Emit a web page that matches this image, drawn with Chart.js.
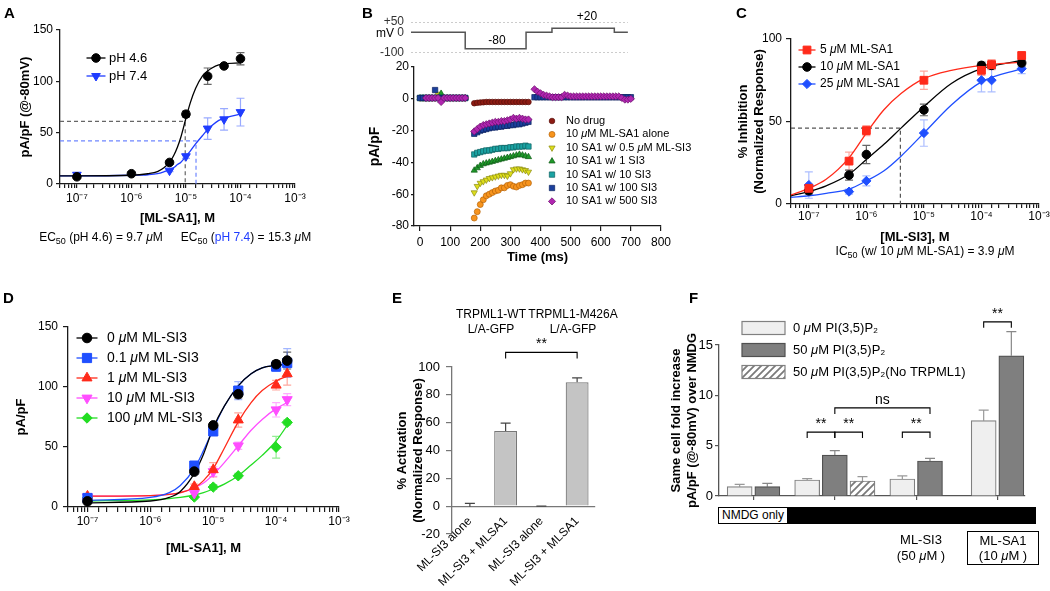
<!DOCTYPE html>
<html>
<head>
<meta charset="utf-8">
<script src="https://cdn.jsdelivr.net/npm/chart.js@4.4.1/dist/chart.umd.min.js"></script>
<style>
  body { margin: 0; background: #fff; }
  #wrap { position: relative; width: 1050px; height: 591px; overflow: hidden; background: #fff;
          font-family: 'Liberation Sans', Arial, Helvetica, sans-serif; color: #000; }
  canvas { position: absolute; left: 0; top: 0; }
  .t { position: absolute; white-space: nowrap; font-size: 13px; line-height: 1; }
  .c { transform: translate(-50%, -50%); }
  .L { font-weight: bold; font-size: 15px; }
  .s { font-size: 12px; }
  sub { font-size: 9px; vertical-align: -3px; line-height: 0; }
</style>
</head>
<body>
<div id="wrap">
  <canvas id="cA" width="1050" height="591"></canvas>
  <canvas id="cBv" width="1050" height="591"></canvas>
  <canvas id="cB" width="1050" height="591"></canvas>
  <canvas id="cC" width="1050" height="591"></canvas>
  <canvas id="cD" width="1050" height="591"></canvas>
  <canvas id="cE" width="1050" height="591"></canvas>
  <canvas id="cF" width="1050" height="591"></canvas>

  <div class="t L" style="left:4px;top:5px">A</div>
  <div class="t L" style="left:362px;top:5px">B</div>
  <div class="t L" style="left:736px;top:5px">C</div>
  <div class="t L" style="left:3px;top:290px">D</div>
  <div class="t L" style="left:392px;top:290px">E</div>
  <div class="t L" style="left:689px;top:290px">F</div>

  <div class="t c s" style="left:101px;top:237px">EC<sub>50</sub> (pH 4.6) = 9.7 <i>μ</i>M</div>
  <div class="t c s" style="left:246px;top:237px">EC<sub>50</sub> (<span style="color:#1f3cff">pH 7.4</span>) = 15.3 <i>μ</i>M</div>

  <div class="t c s" style="left:385px;top:33px">mV</div>
  <div class="t c s" style="left:497px;top:40px">-80</div>
  <div class="t c s" style="left:587px;top:16px">+20</div>

  <div class="t c s" style="left:925px;top:251px">IC<sub>50</sub> (w/ 10 <i>μ</i>M ML-SA1) = 3.9 <i>μ</i>M</div>

  <div class="t c s" style="left:491px;top:314px">TRPML1-WT</div>
  <div class="t c s" style="left:491px;top:329px">L/A-GFP</div>
  <div class="t c s" style="left:573px;top:314px">TRPML1-M426A</div>
  <div class="t c s" style="left:573px;top:329px">L/A-GFP</div>

  <div style="position:absolute;left:718px;top:507px;width:316px;height:15px;border:1px solid #000;background:#000"></div>
  <div class="t s" style="left:719px;top:508px;width:68px;height:15px;background:#fff;line-height:15px;padding-left:3px;box-sizing:border-box">NMDG only</div>
  <div class="t c" style="left:921px;top:539px">ML-SI3</div>
  <div class="t c" style="left:921px;top:555px">(50 <i>μ</i>M )</div>
  <div style="position:absolute;left:967px;top:531px;width:70px;height:32px;border:1px solid #000"></div>
  <div class="t c" style="left:1003px;top:540px">ML-SA1</div>
  <div class="t c" style="left:1003px;top:555px">(10 <i>μ</i>M )</div>
</div>

<script>
// ---------- data: panel A (ML-SA1 dose response, two pH) ----------
const LOG_MIN = 4.9e-8;
const aConc = [1e-7, 1e-6, 5e-6, 1e-5, 2.5e-5, 5e-5, 1e-4];
const aPh46 = [7, 10, 21, 68, 105, 115, 122];
const aPh46Err = [1.5, 1.5, 1.5, 3, 8, 1.5, 6];
const aConc74 = [1e-7, 5e-6, 1e-5, 2.5e-5, 5e-5, 1e-4];
const aPh74 = [9, 13, 27, 54, 63, 70];
const aPh74Err = [2, 1, 2, 10.5, 10.5, 13.5];
const aFitX = [LOG_MIN, 1e-7, 1e-6, 2e-6, 3e-6, 4e-6, 5e-6, 6e-6, 7e-6, 8e-6, 1e-5, 1.2e-5, 1.5e-5, 2e-5, 2.5e-5, 3e-5, 4e-5, 5e-5, 1e-4];
const aFit46 = [8, 8, 8.5, 10, 12, 16, 21, 28, 36, 45, 64, 79, 93, 105, 110, 113, 116, 117, 118];
const aFit74 = [8, 8, 8.5, 9, 10, 12, 14, 16, 19, 21, 27, 32, 39, 47, 53, 57, 62, 64, 68];
const aEc50 = [9.7e-6, 1.53e-5];
const aHalf = [61, 42];

// ---------- data: panel B (current traces) ----------
const bStepT = [-30, 150, 352, 438, 645, 690];
const bStepMv = [0, -80, 0, 20, 0, 0];
const bMvTicks = [50, 0, -100];
const bPreT = [0, 10, 20, 30, 40, 50, 60, 70, 80, 90, 100, 110, 120, 130, 140, 150];
const bMainT = [180, 190, 200, 210, 220, 230, 240, 250, 260, 270, 280, 290, 300, 310, 320, 330, 340, 350, 360];
const bPostT = [380, 390, 400, 410, 420, 430, 440, 450, 460, 470, 480, 490, 500, 510, 520, 530, 540, 550, 560, 570, 580, 590, 600, 610, 620, 630, 640, 650, 660, 670, 680, 690, 700];
const bNoDrug = [-2.8, -2.5, -2.3, -2.2, -2, -2, -2, -2, -2, -2, -2, -2, -2, -2, -2, -2, -2, -2, -2];
const bSa1 = [-75, -71, -66.5, -63.5, -61, -60, -59, -58, -57.5, -56, -56, -54.5, -54, -55, -55.5, -54.5, -54, -53, -53];
const bSi05 = [-59, -55, -53, -52, -51, -50, -49.5, -49, -48.5, -48, -48, -48.5, -47, -44.5, -44, -44, -44.5, -45, -46];
const bSi1 = [-45, -43.5, -42, -41, -40.5, -40, -39.5, -39, -38.5, -38, -37.5, -37, -36.5, -36, -35.5, -35, -35.5, -36, -36.5];
const bSi10 = [-35, -34, -33.5, -33, -32.5, -32.5, -32, -31.5, -31.5, -31, -31, -31, -30.5, -30.5, -30, -30, -30, -29.5, -30];
const bSi100 = [-22, -21, -20, -19.5, -19, -18.5, -18, -18, -17.5, -17.5, -17, -17, -16.5, -16.5, -16, -16, -15.5, -15, -14.5];
const bSi500 = [-20.5, -19, -17.5, -16.5, -16, -15.5, -15, -14.5, -14.5, -14, -14, -13.5, -13, -12, -12.5, -12, -12.5, -13, -13];
const bSi05Pre = [0.5, 0.5, 0.5, 0.5, 0.5, 0.5, 3, 0.5, 0.5, 0.5, 0.5, 0.5, 0.5, 0.5, 0.5, 0.5];
const bSi1Pre = [0.5, 0.5, 0.5, 0.5, 0.5, 0.5, 0.5, 3.3, 0.5, 0.5, 0.5, 0.5, 0.5, 0.5, 0.5, 0.5];
const bSi10Pre = [0.5, 0.5, 0.5, 0.5, 0.5, 0.5, 0.5, 0.5, 0.5, 0.5, 0.5, 0.5, 0.5, 0.5, 0.5, 0.5];
const bSi100Pre = [0.5, 0.5, 0.5, 0.5, 0.5, 5.5, 0.5, 0.5, 0.5, 0.5, 0.5, 0.5, 0.5, 0.5, 0.5, 0.5];
const bSi500Pre = [null, null, 0.5, 0.5, 0.5, 0.5, 0.5, -2, 0.5, 0.5, 0.5, 0.5, 0.5, 0.5, 0.5, 0.5];
const bSi100Post = [1, 1, 1, 1, 1, 1, 1, 1, 1, 1, 1, 1, 1, 1, 1, 1, 1, 1, 1, 1, 1, 1, 1, 1, 1, 1, 1, 1, 1, 1, 1, 1, 1];
const bSi500Post = [6, 4.5, 3.5, 2.5, 2, 1.5, 1, 1, 1, 1, 2.5, 2, 1.5, 1.5, 1.5, 1.5, 1.5, 1.5, 1.5, 1.5, 1.5, 1.5, 1.5, 1.5, 1.5, 1.5, 1.5, 1.5, 1.5, 0.5, -0.5, -0.5, 0];

// ---------- data: panel C (ML-SI3 inhibition) ----------
const cConc = [1e-7, 5e-7, 1e-6, 1e-5, 1e-4, 1.5e-4, 5e-4];
const cSa5 = [9.5, 26, 44.5, 75, 81, 84.5, 90];
const cSa5Err = [2, 5.5, 3, 5.5, 3, 3, 2];
const cSa10 = [8, 17.5, 30, 57, 84, 84, 85.5];
const cSa10Err = [2, 3, 5.5, 3.5, 2, 2, 2];
const cSa25 = [11.5, 7.5, 14, 43, 75, 75, 82];
const cSa25Err = [8, 1.5, 3, 8, 7, 7, 3];
const cFitX = [LOG_MIN, 1e-7, 2e-7, 5e-7, 1e-6, 2e-6, 4e-6, 1e-5, 3e-5, 1e-4, 5e-4];
const cFit5 = [5.5, 9.5, 15, 28, 43, 57, 67, 76, 81, 84, 86];
const cFit10 = [5, 7.5, 11, 18, 27, 36, 46, 59, 73, 82, 87];
const cFit25 = [4, 5, 6.5, 9, 14, 20, 29, 43, 60, 74, 82];
const cIc50 = 3.9e-6;
const cHalf = 46;

// ---------- data: panel D (ML-SA1 with ML-SI3) ----------
const dConc = [1e-7, 5e-6, 1e-5, 2.5e-5, 1e-4, 1.5e-4];
const dSi0 = [4.7, 29.5, 68, 94, 119, 122];
const dSi0Err = [1.5, 2, 2, 3, 3, 7];
const dSi01 = [7.5, 34.5, 63, 97, 117, 120];
const dSi01Err = [2, 3, 3, 7.5, 4, 12];
const dSi1 = [9, 17, 31, 72.5, 101.5, 111];
const dSi1Err = [2, 2, 6, 6, 4, 9.5];
const dSi10 = [8.5, 11.5, 29.5, 51, 81, 89.5];
const dSi10Err = [2, 2, 4, 3, 6, 5];
const dSi100 = [7.5, 8.3, 16.6, 26, 49.8, 70.5];
const dSi100Err = [2, 1.5, 2, 2, 9, 2];
const dFitX = [1e-7, 1e-6, 2e-6, 3e-6, 5e-6, 7e-6, 1e-5, 1.5e-5, 2.5e-5, 4e-5, 6e-5, 1e-4, 1.5e-4];
const dFit0 = [3.5, 5, 8, 13, 28, 44, 66, 84, 101, 111, 116, 118, 119];
const dFit01 = [5.5, 8, 12, 18, 32, 47, 65, 84, 101, 111, 116, 118, 119];
const dFit1 = [9, 9.5, 10.5, 12, 16, 22, 32, 49, 71, 87, 97, 105, 109];
const dFit10 = [9, 9.5, 10.5, 12, 16, 20, 27, 37, 51, 64, 73, 82, 87];
const dFit100 = [5, 6, 7, 8, 10, 12, 15, 19, 26, 35, 43, 55, 68];

// ---------- data: panel E ----------
const eLabels = ['ML-SI3 alone', 'ML-SI3 + MLSA1', 'ML-SI3 alone', 'ML-SI3 + MLSA1'];
const eValues = [-0.5, 54, -0.3, 89];
const eErr = [2.5, 5.7, 0.3, 3.2];

// ---------- data: panel F ----------
const fGroups = ['NMDG only', 'Control', 'ML-SI3 (50 μM)', 'ML-SA1 (10 μM)'];
const fPi0 = [0.93, 1.59, 1.69, 7.48];
const fPi0Err = [0.23, 0.13, 0.3, 1.06];
const fPi50 = [0.93, 4.07, 3.48, 13.93];
const fPi50Err = [0.33, 0.43, 0.26, 2.4];
const fNoTrpml1 = [null, 1.49, null, null];
const fNoTrpml1Err = [null, 0.43, null, null];

// ---------- helpers ----------
const FONT = "'Liberation Sans', Arial, Helvetica, sans-serif";
Chart.defaults.font.family = FONT;
Chart.defaults.color = '#000';

const pts = (xs, ys) => xs.map((x, i) => ({ x, y: ys[i] }));

function merge(a, b) {
  const out = Object.assign({}, a);
  for (const k in b) {
    const v = b[k];
    if (v && typeof v === 'object' && !Array.isArray(v) && a[k] && typeof a[k] === 'object' && !Array.isArray(a[k])) {
      out[k] = merge(a[k], v);
    } else {
      out[k] = v;
    }
  }
  return out;
}

const AXC = '#1a1a1a';
function yAxis(w, o) {
  return merge({
    border: { color: AXC, width: 1.3 },
    grid: { drawOnChartArea: false, color: AXC, lineWidth: 1.2, tickLength: 4 },
    ticks: { font: { size: 12 }, color: '#000', padding: 3 },
    afterFit: s => { s.width = w; s.paddingTop = 0; s.paddingBottom = 0; }
  }, o || {});
}
function xAxis(h, o) {
  return merge({
    border: { color: AXC, width: 1.3 },
    grid: { drawOnChartArea: false, color: AXC, lineWidth: 1.2, tickLength: 4 },
    ticks: { font: { size: 12 }, color: '#000', padding: 3, maxRotation: 0, autoSkip: false },
    afterFit: s => { s.height = h; s.paddingLeft = 0; s.paddingRight = 0; }
  }, o || {});
}
function title(text, size) {
  return { display: true, text, font: { size: size || 13, weight: 'bold' }, padding: 0, color: '#000' };
}
function area(l, t, r, b, w, h) {
  return { autoPadding: false, padding: { left: l - w, top: t, right: 1050 - r, bottom: 591 - b - h } };
}
const SUP = { '-': '⁻', '0': '⁰', '1': '¹', '2': '²', '3': '³', '4': '⁴', '5': '⁵', '6': '⁶', '7': '⁷', '8': '⁸', '9': '⁹' };
function sciLabel(v) {
  const e = Math.log10(v);
  if (Math.abs(e - Math.round(e)) > 1e-6) return '';
  return '10' + String(Math.round(e)).split('').map(c => SUP[c]).join('');
}
function logX(h, o) {
  return xAxis(h, merge({ type: 'logarithmic', min: LOG_MIN, max: 1e-3, ticks: { callback: sciLabel } }, o || {}));
}
function baseOptions(layout, scales) {
  return {
    responsive: false, animation: false, layout, scales,
    plugins: { legend: { display: false }, tooltip: { enabled: false } }
  };
}
function pointSet(label, xs, ys, errs, style, r, fill, stroke, errColor, extra) {
  return Object.assign({
    label, data: pts(xs, ys), errors: errs, errorColor: errColor, showLine: false,
    pointStyle: style, pointRadius: r, backgroundColor: fill, borderColor: stroke, borderWidth: 1, order: 0
  }, extra || {});
}
function curve(xs, ys, color) {
  return { data: pts(xs, ys), showLine: true, pointRadius: 0, borderColor: color, borderWidth: 1.3,
           cubicInterpolationMode: 'monotone', fill: false, order: 1 };
}
function guide(xs, ys, color) {
  return { data: pts(xs, ys), showLine: true, pointRadius: 0, borderColor: color, borderWidth: 1.2,
           borderDash: [4, 3], fill: false, order: 2 };
}

// error bars drawn through the dataset's own y scale
const errorBars = {
  id: 'errorBars',
  beforeDatasetsDraw(chart) {
    const ctx = chart.ctx;
    chart.data.datasets.forEach((ds, di) => {
      if (!ds.errors) return;
      const meta = chart.getDatasetMeta(di);
      const ys = chart.scales[meta.yAxisID];
      ctx.save();
      ctx.strokeStyle = ds.errorColor || ds.borderColor;
      ctx.lineWidth = 1.2;
      meta.data.forEach((el, i) => {
        const e = ds.errors[i];
        if (!e) return;
        const v = meta.controller.getParsed(i).y;
        const top = ys.getPixelForValue(v + e);
        const bot = ds.errorUp ? el.y : ys.getPixelForValue(v - e);
        const cw = ds.errorCap || 4;
        ctx.beginPath();
        ctx.moveTo(el.x, bot); ctx.lineTo(el.x, top);
        ctx.moveTo(el.x - cw, top); ctx.lineTo(el.x + cw, top);
        if (!ds.errorUp) { ctx.moveTo(el.x - cw, bot); ctx.lineTo(el.x + cw, bot); }
        ctx.stroke();
      });
      ctx.restore();
    });
  }
};
Chart.register(errorBars);

function rich(ctx, text, x, y, size) {
  ctx.fillStyle = '#000';
  ctx.textBaseline = 'middle';
  ctx.textAlign = 'left';
  text.split(/(μ)/).forEach(p => {
    if (!p) return;
    ctx.font = (p === 'μ' ? 'italic ' : '') + size + 'px ' + FONT;
    ctx.fillText(p, x, y);
    x += ctx.measureText(p).width;
  });
}
function marker(ctx, ds, x, y) {
  ctx.fillStyle = ds.backgroundColor;
  ctx.strokeStyle = ds.borderColor;
  ctx.lineWidth = ds.borderWidth || 1;
  if (Chart.helpers && Chart.helpers.drawPoint) {
    Chart.helpers.drawPoint(ctx, { pointStyle: ds.pointStyle, rotation: ds.pointRotation || 0,
      radius: ds.pointRadius, borderWidth: ds.borderWidth || 1 }, x, y);
  } else {
    ctx.beginPath(); ctx.arc(x, y, ds.pointRadius, 0, Math.PI * 2); ctx.fill(); ctx.stroke();
  }
}
// legend drawn inside the plot: optional line, marker, label
function lineLegend(cfg) {
  return {
    id: 'lineLegend',
    afterDraw(chart) {
      const ctx = chart.ctx;
      cfg.rows.forEach((di, i) => {
        const ds = chart.data.datasets[di];
        const y = cfg.y + i * cfg.dy;
        ctx.save();
        if (cfg.len) {
          ctx.strokeStyle = ds.lineColor || ds.borderColor;
          ctx.lineWidth = 1.3;
          ctx.beginPath();
          ctx.moveTo(cfg.x - cfg.len / 2, y);
          ctx.lineTo(cfg.x + cfg.len / 2, y);
          ctx.stroke();
        }
        marker(ctx, ds, cfg.x, y);
        rich(ctx, ds.label, cfg.textX, y, cfg.font);
        ctx.restore();
      });
    }
  };
}
function boxLegend(cfg) {
  return {
    id: 'boxLegend',
    afterDraw(chart) {
      const ctx = chart.ctx;
      cfg.rows.forEach((di, i) => {
        const ds = chart.data.datasets[di];
        const y = cfg.y + i * cfg.dy;
        ctx.save();
        ctx.fillStyle = ds.backgroundColor;
        ctx.fillRect(cfg.x, y - cfg.h / 2, cfg.w, cfg.h);
        ctx.strokeStyle = ds.borderColor;
        ctx.lineWidth = 1.2;
        ctx.strokeRect(cfg.x, y - cfg.h / 2, cfg.w, cfg.h);
        rich(ctx, ds.label, cfg.textX, y, cfg.font);
        ctx.restore();
      });
    }
  };
}
function brackets(list) {
  return {
    id: 'brackets',
    afterDraw(chart) {
      const ctx = chart.ctx, xs = chart.scales.x, ys = chart.scales.y;
      ctx.save();
      ctx.strokeStyle = '#000';
      ctx.fillStyle = '#000';
      ctx.lineWidth = 1.1;
      list.forEach(b => {
        const x1 = xs.getPixelForValue(b.from), x2 = xs.getPixelForValue(b.to);
        const y = ys.getPixelForValue(b.at);
        ctx.beginPath();
        ctx.moveTo(x1, y + 6); ctx.lineTo(x1, y); ctx.lineTo(x2, y); ctx.lineTo(x2, y + 6);
        ctx.stroke();
        ctx.font = '14px ' + FONT;
        ctx.textAlign = 'center';
        ctx.textBaseline = 'bottom';
        ctx.fillText(b.text, (x1 + x2) / 2, y - 1);
      });
      ctx.restore();
    }
  };
}
function hatch() {
  const c = document.createElement('canvas');
  c.width = 7; c.height = 7;
  const g = c.getContext('2d');
  g.fillStyle = '#fff'; g.fillRect(0, 0, 7, 7);
  g.strokeStyle = '#7a7a7a'; g.lineWidth = 1.8;
  g.beginPath();
  g.moveTo(-1, 8); g.lineTo(8, -1);
  g.moveTo(-4, 4); g.lineTo(4, -4);
  g.moveTo(3, 11); g.lineTo(11, 3);
  g.stroke();
  return g.createPattern(c, 'repeat');
}

// ---------- panel A ----------
const BLUE = '#1f3cff';
new Chart(document.getElementById('cA'), {
  type: 'scatter',
  data: { datasets: [
    pointSet('pH 4.6', aConc, aPh46, aPh46Err, 'circle', 4.3, '#000', '#000', '#666'),
    pointSet('pH 7.4', aConc74, aPh74, aPh74Err, 'triangle', 5, BLUE, BLUE, 'rgba(70,100,255,0.55)', { pointRotation: 180 }),
    curve(aFitX, aFit46, '#000'),
    curve(aFitX, aFit74, BLUE),
    guide([LOG_MIN, aEc50[0], aEc50[0]], [aHalf[0], aHalf[0], 0], '#666'),
    guide([LOG_MIN, aEc50[1], aEc50[1]], [aHalf[1], aHalf[1], 0], '#6f86ff')
  ] },
  options: baseOptions(area(60, 30, 295, 184, 42, 42), {
    x: logX(42, { title: title('[ML-SA1], M') }),
    y: yAxis(42, { min: 0, max: 150, ticks: { stepSize: 50 }, title: title('pA/pF (@-80mV)') })
  }),
  plugins: [lineLegend({ x: 96, y: 58, dy: 18, len: 19, textX: 109, font: 13, rows: [0, 1] })]
});

// ---------- panel B: voltage protocol ----------
new Chart(document.getElementById('cBv'), {
  type: 'scatter',
  data: { datasets: [
    { data: pts(bStepT, bStepMv), showLine: true, stepped: true, pointRadius: 0, borderColor: '#555', borderWidth: 1.5 },
    { data: pts([bStepT[0], bStepT[5]], [bMvTicks[0], bMvTicks[0]]), showLine: true, pointRadius: 0, borderColor: '#999', borderWidth: 1, borderDash: [2, 2] },
    { data: pts([bStepT[0], bStepT[5]], [bMvTicks[2], bMvTicks[2]]), showLine: true, pointRadius: 0, borderColor: '#999', borderWidth: 1, borderDash: [2, 2] }
  ] },
  options: baseOptions(area(411, 22, 661, 53, 61, 0), {
    x: { type: 'linear', display: false, min: -30, max: 800 },
    y: yAxis(61, {
      min: -100, max: 50,
      grid: { display: false }, border: { display: false },
      afterBuildTicks: s => { s.ticks = bMvTicks.map(v => ({ value: v })); },
      ticks: { padding: 3, color: '#333', autoSkip: false, callback: v => (v > 0 ? '+' : '') + v }
    })
  })
});

// ---------- panel B: current traces ----------
function bSeries(label, segs, style, r, fill, stroke, order, rot) {
  const data = [];
  segs.forEach(([ts, vs]) => data.push(...pts(ts, vs)));
  return { label, data, showLine: false, pointStyle: style, pointRadius: r, pointRotation: rot || 0,
           backgroundColor: fill, borderColor: stroke, borderWidth: 0.7, order };
}
new Chart(document.getElementById('cB'), {
  type: 'scatter',
  data: { datasets: [
    bSeries('No drug', [[bMainT, bNoDrug]], 'circle', 2.8, '#8c1c13', '#5a0f0a', 6),
    bSeries('10 μM ML-SA1 alone', [[bMainT, bSa1]], 'circle', 3, '#f7941d', '#b5630a', 5),
    bSeries('10 SA1 w/ 0.5 μM ML-SI3', [[bPreT, bSi05Pre], [bMainT, bSi05]], 'triangle', 3.6, '#dede1c', '#8a8a10', 4, 180),
    bSeries('10 SA1 w/ 1 SI3', [[bPreT, bSi1Pre], [bMainT, bSi1]], 'triangle', 3.6, '#1f9a2a', '#0f5a15', 3),
    bSeries('10 SA1 w/ 10 SI3', [[bPreT, bSi10Pre], [bMainT, bSi10]], 'rect', 3.8, '#1ba3a3', '#0e6262', 2),
    bSeries('10 SA1 w/ 100 SI3', [[bPreT, bSi100Pre], [bMainT, bSi100], [bPostT, bSi100Post]], 'rect', 3.8, '#1b3f9c', '#0d2260', 1),
    bSeries('10 SA1 w/ 500 SI3', [[bPreT, bSi500Pre], [bMainT, bSi500], [bPostT, bSi500Post]], 'rectRot', 3.6, '#b026b0', '#6a106a', 0)
  ] },
  options: baseOptions(area(414, 67, 661, 226, 47, 39), {
    x: xAxis(39, { type: 'linear', min: -20, max: 800, ticks: { stepSize: 100, includeBounds: false, padding: 4 }, grid: { tickLength: 5 }, title: title('Time (ms)') }),
    y: yAxis(47, { min: -80, max: 20, ticks: { stepSize: 20, padding: 2 }, grid: { tickLength: 3 }, title: title('pA/pF', 14) })
  }),
  plugins: [lineLegend({ x: 552, y: 121, dy: 13.4, len: 0, textX: 566, font: 11, rows: [0, 1, 2, 3, 4, 5, 6] })]
});

// ---------- panel C ----------
const RED = '#ff2a1a', CBLUE = '#1f4fff';
new Chart(document.getElementById('cC'), {
  type: 'scatter',
  data: { datasets: [
    pointSet('5 μM ML-SA1', cConc, cSa5, cSa5Err, 'rect', 5.5, RED, RED, 'rgba(255,60,40,0.45)'),
    pointSet('10 μM ML-SA1', cConc, cSa10, cSa10Err, 'circle', 4.3, '#000', '#000', '#666'),
    pointSet('25 μM ML-SA1', cConc, cSa25, cSa25Err, 'rectRot', 4.6, CBLUE, CBLUE, 'rgba(70,110,255,0.45)'),
    curve(cFitX, cFit5, RED),
    curve(cFitX, cFit10, '#000'),
    curve(cFitX, cFit25, CBLUE),
    guide([LOG_MIN, cIc50, cIc50], [cHalf, cHalf, 0], '#555')
  ] },
  options: baseOptions(area(791, 39, 1039, 204, 55, 41), {
    x: logX(41, { ticks: { padding: 1 }, title: title('[ML-SI3], M') }),
    y: yAxis(55, { min: 0, max: 100, ticks: { stepSize: 50, padding: 4 }, grid: { tickLength: 5 }, title: title(['% Inhibition', '(Normalized Response)']) })
  }),
  plugins: [lineLegend({ x: 807, y: 50, dy: 17, len: 17, textX: 820, font: 12, rows: [0, 1, 2] })]
});

// ---------- panel D ----------
const DBLUE = '#1f4fff', DMAG = '#ff4dff', DGREEN = '#22dd22';
new Chart(document.getElementById('cD'), {
  type: 'scatter',
  data: { datasets: [
    pointSet('0 μM ML-SI3', dConc, dSi0, dSi0Err, 'circle', 4.8, '#000', '#000', '#666'),
    pointSet('0.1 μM ML-SI3', dConc, dSi01, dSi01Err, 'rect', 6.5, DBLUE, DBLUE, 'rgba(70,110,255,0.5)'),
    pointSet('1 μM ML-SI3', dConc, dSi1, dSi1Err, 'triangle', 5.8, RED, RED, 'rgba(255,60,40,0.45)'),
    pointSet('10 μM ML-SI3', dConc, dSi10, dSi10Err, 'triangle', 5.8, DMAG, DMAG, 'rgba(255,90,255,0.5)', { pointRotation: 180 }),
    pointSet('100 μM ML-SI3', dConc, dSi100, dSi100Err, 'rectRot', 5.2, DGREEN, DGREEN, 'rgba(40,220,40,0.5)'),
    curve(dFitX, dFit0, '#000'),
    curve(dFitX, dFit01, DBLUE),
    curve(dFitX, dFit1, RED),
    curve(dFitX, dFit10, DMAG),
    curve(dFitX, dFit100, DGREEN)
  ] },
  options: baseOptions(area(68, 327, 339, 507, 54, 49), {
    x: logX(49, { ticks: { padding: 2 }, grid: { tickLength: 5 }, title: title('[ML-SA1], M') }),
    y: yAxis(54, { min: 0, max: 150, ticks: { stepSize: 50, padding: 5 }, grid: { tickLength: 5 }, title: title('pA/pF') })
  }),
  plugins: [lineLegend({ x: 87, y: 338, dy: 20, len: 21, textX: 107, font: 14, rows: [0, 1, 2, 3, 4] })]
});

// ---------- panel E ----------
new Chart(document.getElementById('cE'), {
  type: 'bar',
  data: { labels: eLabels, datasets: [{
    data: eValues, errors: eErr, errorUp: true, errorColor: '#444', errorCap: 5,
    backgroundColor: '#c4c4c4', borderColor: '#777', borderWidth: 1.2,
    barPercentage: 0.64, categoryPercentage: 1
  }] },
  options: baseOptions(area(452, 367, 595, 534, 57, 0), {
    x: xAxis(0, { position: { y: 0 }, grid: { drawTicks: false }, border: { color: '#777' },
      ticks: { minRotation: 45, maxRotation: 45, padding: 8, font: { size: 12 } } }),
    y: yAxis(57, { min: -20, max: 100, border: { color: '#777' }, grid: { color: '#777', tickLength: 6 },
      ticks: { stepSize: 20, padding: 6, font: { size: 13 } }, title: title(['% Activation', '(Normalized Response)']) })
  }),
  plugins: [brackets([{ from: 1, to: 3, at: 110.5, text: '**' }])]
});

// ---------- panel F ----------
const fSeries = [fPi0, fPi50, fNoTrpml1];
function barX(g, k) {
  const n = fSeries.filter(s => s[g] !== null).length;
  return g + (k - (n - 1) / 2) * 0.34;
}
function fBars(label, k, vals, errs, fill, stroke, errColor) {
  const idx = fGroups.map((_, g) => g).filter(g => vals[g] !== null);
  return {
    label, data: idx.map(g => ({ x: barX(g, k), y: vals[g] })), errors: idx.map(g => errs[g]),
    errorUp: true, errorColor: errColor, errorCap: 5,
    backgroundColor: fill, borderColor: stroke, borderWidth: 1.2, barThickness: 25, grouped: false
  };
}
new Chart(document.getElementById('cF'), {
  type: 'bar',
  data: { datasets: [
    fBars('0 μM PI(3,5)P₂', 0, fPi0, fPi0Err, '#efefef', '#808080', '#999'),
    fBars('50 μM PI(3,5)P₂', 1, fPi50, fPi50Err, '#7f7f7f', '#505050', '#888'),
    fBars('50 μM PI(3,5)P₂(No TRPML1)', 2, fNoTrpml1, fNoTrpml1Err, hatch(), '#808080', '#999')
  ] },
  options: baseOptions(area(719, 345, 1025, 496, 50, 0), {
    x: xAxis(0, { type: 'linear', offset: false, min: -0.424, max: 3.338, border: { color: '#555' },
      grid: { color: '#555', offset: false },
      ticks: { stepSize: 1, includeBounds: false, callback: () => '' } }),
    y: yAxis(50, { min: 0, max: 15, border: { color: '#555' }, grid: { color: '#555' },
      ticks: { stepSize: 5, padding: 2, font: { size: 13 } }, title: title(['Same cell fold increase', 'pA/pF (@-80mV) over NMDG']) })
  }),
  plugins: [
    boxLegend({ x: 742, y: 328, dy: 22, w: 43, h: 13, textX: 793, font: 13, rows: [0, 1, 2] }),
    brackets([
      { from: barX(1, 0), to: barX(1, 1), at: 6.35, text: '**' },
      { from: barX(1, 1), to: barX(1, 2), at: 6.35, text: '**' },
      { from: barX(2, 0), to: barX(2, 1), at: 6.35, text: '**' },
      { from: barX(1, 1), to: barX(2, 1), at: 8.75, text: 'ns' },
      { from: barX(3, 0), to: barX(3, 1), at: 17.3, text: '**' }
    ])
  ]
});
</script>
</body>
</html>
